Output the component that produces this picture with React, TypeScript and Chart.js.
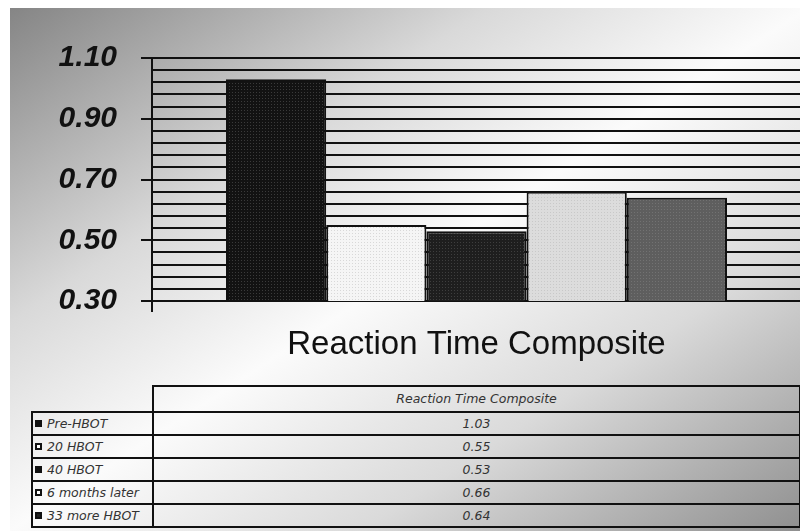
import React, { useEffect, useRef } from 'react';
import { Chart, registerables } from 'chart.js';

Chart.register(...registerables);

const categories = ['Reaction Time Composite'];
const seriesNames = ['Pre-HBOT', '20 HBOT', '40 HBOT', '6 months later', '33 more HBOT'];
const seriesValues = [1.03, 0.55, 0.53, 0.66, 0.64];
const valueLabels = ['1.03', '0.55', '0.53', '0.66', '0.64'];
const yTickLabels = ['0.30', '0.50', '0.70', '0.90', '1.10'];
const yMin = 0.3;
const yMax = 1.1;
const yStep = 0.04;

const seriesColors = ['#121212', '#f5f5f5', '#1e1e1e', '#dcdcdc', '#5e5e5e'];
const dotColors = ['#3a3a3a', '#d8d8d8', '#3e3e3e', '#c8c8c8', '#727272'];
const markerColors = ['#111111', '#ffffff', '#111111', '#ffffff', '#222222'];

const INK = '#111111';

function makePattern(base: string, dot: string): CanvasPattern | string {
  const c = document.createElement('canvas');
  c.width = 3;
  c.height = 3;
  const g = c.getContext('2d');
  if (!g) return base;
  g.fillStyle = base;
  g.fillRect(0, 0, 3, 3);
  g.fillStyle = dot;
  g.fillRect(0, 0, 1, 1);
  const p = g.createPattern(c, 'repeat');
  return p || base;
}

function labelFor(value: number): string {
  const s = yTickLabels.find((l) => Math.abs(Number(l) - value) < 1e-6);
  return s ?? '';
}

export default function App() {
  const canvasRef = useRef<HTMLCanvasElement | null>(null);

  useEffect(() => {
    if (!canvasRef.current) return;
    const chart = new Chart(canvasRef.current, {
      type: 'bar',
      data: {
        labels: categories,
        datasets: seriesNames.map((name, i) => ({
          label: name,
          data: [seriesValues[i]],
          backgroundColor: makePattern(seriesColors[i], dotColors[i]) as any,
          borderColor: INK,
          borderWidth: 2,
          borderSkipped: false,
          barPercentage: 1,
          categoryPercentage: 0.772,
        })),
      },
      options: {
        animation: false,
        responsive: false,
        events: [],
        layout: { padding: { top: 50, right: 7, left: 0, bottom: 0 } },
        plugins: {
          legend: { display: false },
          tooltip: { enabled: false },
          title: { display: false },
        },
        scales: {
          x: {
            type: 'category',
            offset: true,
            border: { display: true, color: INK, width: 2 },
            grid: {
              display: true,
              drawOnChartArea: false,
              drawTicks: true,
              tickLength: 11,
              color: INK,
              lineWidth: 2,
              offset: true,
            },
            ticks: {
              color: '#111',
              padding: 13,
              maxRotation: 0,
              font: { family: '"Liberation Sans", Arial, sans-serif', size: 33, weight: 'normal' },
            },
            afterFit: (scale: any) => {
              scale.height = 77;
            },
          },
          y: {
            type: 'linear',
            min: yMin,
            max: yMax,
            border: { display: true, color: INK, width: 2 },
            grid: {
              color: INK,
              lineWidth: 2,
              drawTicks: true,
              tickLength: 11,
              tickWidth: 2,
              tickColor: (ctx: any) => (labelFor(ctx.tick?.value) ? INK : 'rgba(0,0,0,0)'),
            },
            afterBuildTicks: (scale: any) => {
              const n = Math.round((yMax - yMin) / yStep);
              const t = [];
              for (let i = 0; i <= n; i++) t.push({ value: +(yMin + i * yStep).toFixed(4) });
              scale.ticks = t;
            },
            ticks: {
              autoSkip: false,
              padding: 24,
              color: '#111',
              font: { family: '"Liberation Sans", Arial, sans-serif', size: 30, weight: 'bold', style: 'italic' },
              callback: (v: any) => labelFor(Number(v)),
            },
            afterFit: (scale: any) => {
              scale.width = 142;
            },
          },
        },
      } as any,
    });
    return () => chart.destroy();
  }, []);

  const tableFont = '"DejaVu Sans", Verdana, sans-serif';
  const fontSize = 12.5;
  const rowTop = 403;
  const rowH = 23;

  return (
    <div
      style={{
        position: 'relative',
        marginLeft: 2,
        width: 798,
        height: 523,
        background: 'linear-gradient(to bottom right, #858585 0%, #d9d9d9 30%, #fbfbfb 50%, #dadada 72%, #8e8e8e 100%)',
        overflow: 'hidden',
      }}
    >
      <canvas
        ref={canvasRef}
        width={798}
        height={370}
        style={{ position: 'absolute', left: 0, top: 0, width: 798, height: 370, display: 'block' }}
      />
      <div
        style={{
          position: 'absolute',
          left: 142,
          top: 377,
          width: 649,
          height: 28,
          boxSizing: 'border-box',
          border: `2px solid ${INK}`,
          fontFamily: tableFont,
          fontStyle: 'italic',
          fontSize,
          color: '#333',
          display: 'flex',
          alignItems: 'center',
          justifyContent: 'center',
          paddingBottom: 2,
        }}
      >
        {categories[0]}
      </div>
      {seriesNames.map((name, i) => (
        <React.Fragment key={name}>
          <div
            style={{
              position: 'absolute',
              left: 21,
              top: rowTop + i * rowH,
              width: 123,
              height: rowH + 2,
              boxSizing: 'border-box',
              border: `2px solid ${INK}`,
              fontFamily: tableFont,
              fontStyle: 'italic',
              fontSize,
              color: '#333',
              display: 'flex',
              alignItems: 'center',
              paddingLeft: 2,
              whiteSpace: 'nowrap',
              overflow: 'hidden',
            }}
          >
            <span
              style={{
                display: 'inline-block',
                flex: '0 0 auto',
                width: 7,
                height: 7,
                boxSizing: 'border-box',
                border: '2px solid #111',
                background: markerColors[i],
                marginRight: 5,
              }}
            />
            {name}
          </div>
          <div
            style={{
              position: 'absolute',
              left: 142,
              top: rowTop + i * rowH,
              width: 649,
              height: rowH + 2,
              boxSizing: 'border-box',
              border: `2px solid ${INK}`,
              fontFamily: tableFont,
              fontStyle: 'italic',
              fontSize,
              color: '#333',
              display: 'flex',
              alignItems: 'center',
              justifyContent: 'center',
            }}
          >
            {valueLabels[i]}
          </div>
        </React.Fragment>
      ))}
    </div>
  );
}
